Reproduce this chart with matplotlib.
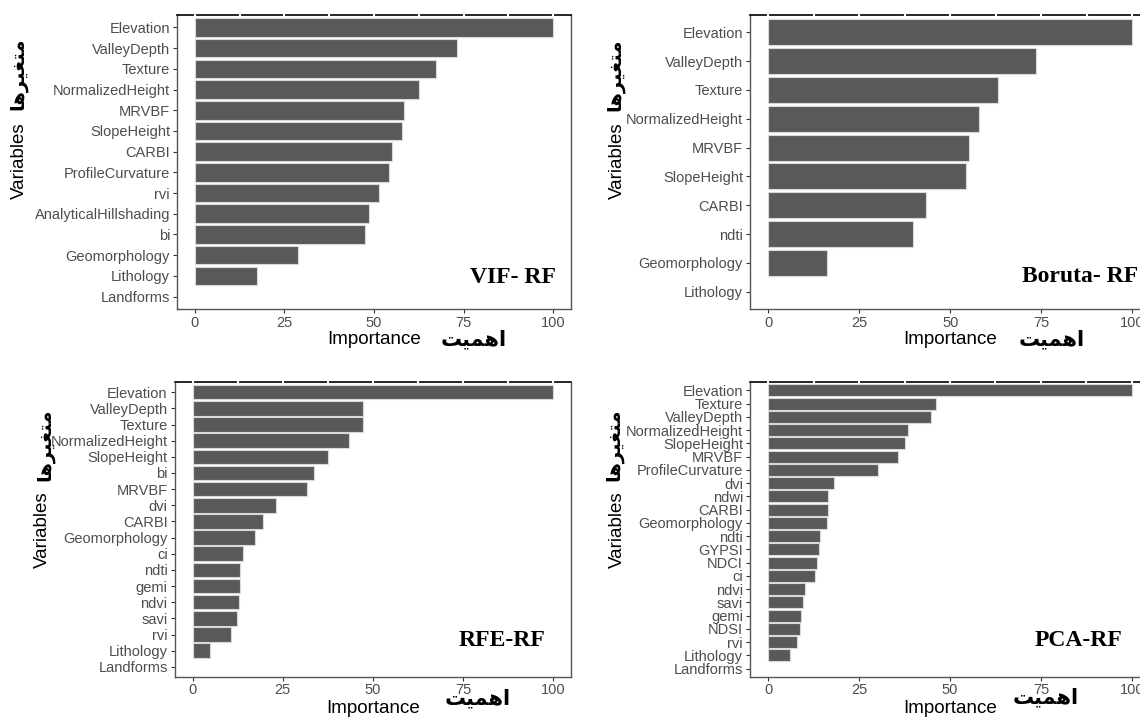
import numpy as np
import matplotlib
matplotlib.use("Agg")
import matplotlib.pyplot as plt

plt.rcParams['font.family'] = ['Liberation Sans', 'DejaVu Sans']

# ---- data ----
vif_vars = ["Elevation", "ValleyDepth", "Texture", "NormalizedHeight", "MRVBF",
            "SlopeHeight", "CARBI", "ProfileCurvature", "rvi", "AnalyticalHillshading",
            "bi", "Geomorphology", "Lithology", "Landforms"]
vif_imp = [100, 73.3, 67.2, 62.6, 58.5, 57.8, 54.9, 54.3, 51.5, 48.7, 47.4, 28.7, 17.3, 0]

boruta_vars = ["Elevation", "ValleyDepth", "Texture", "NormalizedHeight", "MRVBF",
               "SlopeHeight", "CARBI", "ndti", "Geomorphology", "Lithology"]
boruta_imp = [100, 73.6, 63.2, 58.0, 55.0, 54.3, 43.4, 39.7, 16.2, 0]

rfe_vars = ["Elevation", "ValleyDepth", "Texture", "NormalizedHeight", "SlopeHeight",
            "bi", "MRVBF", "dvi", "CARBI", "Geomorphology", "ci", "ndti", "gemi",
            "ndvi", "savi", "rvi", "Lithology", "Landforms"]
rfe_imp = [100, 47.2, 47.2, 43.3, 37.6, 33.7, 31.6, 23.0, 19.5, 17.2, 13.9, 13.1,
           13.1, 12.8, 12.3, 10.6, 4.9, 0]

pca_vars = ["Elevation", "Texture", "ValleyDepth", "NormalizedHeight", "SlopeHeight",
            "MRVBF", "ProfileCurvature", "dvi", "ndwi", "CARBI", "Geomorphology",
            "ndti", "GYPSI", "NDCI", "ci", "ndvi", "savi", "gemi", "NDSI", "rvi",
            "Lithology", "Landforms"]
pca_imp = [100, 46.2, 44.7, 38.4, 37.7, 35.7, 30.1, 18.0, 16.4, 16.4, 16.2, 14.2,
           13.9, 13.5, 12.8, 10.0, 9.5, 9.0, 8.8, 7.9, 5.9, 0]

titles = ["VIF- RF", "Boruta- RF", "RFE-RF", "PCA-RF"]

# Persian labels, pre-shaped (presentation forms, visual order)
fa_importance = "\uFE96\uFEF4\uFEE4\uFEEB\uFE8D"          # اهمیت
fa_variables = "\uFE8E\uFEEB\uFEAE\uFEF4\uFED0\uFE98\uFEE3"  # متغیرها

W, H = 1140, 717
fig = plt.figure(figsize=(W / 100, H / 100), dpi=100)


def px_axes(l, r, t, b):
    return fig.add_axes([l / W, 1 - b / H, (r - l) / W, (b - t) / H])


panels = [
    # vars, imp, axes box px, title pos, title ha, label coords
    dict(v=vif_vars, s=vif_imp, box=(177, 571, 15, 309), tpos=(0.962, 0.088), tha='right',
         ylab=(-0.401, 0.503), yfa=(-0.405, 0.80), xlab=(0.5, -0.075), xfa=(0.754, -0.105)),
    dict(v=boruta_vars, s=boruta_imp, box=(750, 1150.6, 15, 309), tpos=(0.679, 0.092), tha='left',
         ylab=(-0.332, 0.503), yfa=(-0.337, 0.796), xlab=(0.5, -0.075), xfa=(0.754, -0.105)),
    dict(v=rfe_vars, s=rfe_imp, box=(174.6, 571.3, 382.5, 676.5), tpos=(0.936, 0.104), tha='right',
         ylab=(-0.333, 0.50), yfa=(-0.327, 0.787), xlab=(0.5, -0.08), xfa=(0.765, -0.076)),
    dict(v=pca_vars, s=pca_imp, box=(750, 1150, 382.5, 676.5), tpos=(0.93, 0.104), tha='right',
         ylab=(-0.332, 0.50), yfa=(-0.34, 0.787), xlab=(0.5, -0.08), xfa=(0.738, -0.07)),
]

for p, title in zip(panels, titles):
    ax = px_axes(*p["box"])
    n = len(p["v"])
    pos = np.arange(n)
    lws = [0.8 if v > 0 else 0 for v in p["s"]]
    ax.barh(pos, p["s"], height=0.9, color="#595959", edgecolor="#d9d9d9", linewidth=lws)
    ax.set_yticks(pos)
    ax.set_yticklabels(p["v"])
    ax.set_ylim(n - 1 + 0.6, -0.6)
    ax.set_xlim(-5, 105)
    ax.set_xticks([0, 25, 50, 75, 100])
    ax.tick_params(axis='both', labelsize=10.5, labelcolor="#4D4D4D", color="#333333",
                   length=3, width=0.8, pad=2)
    for sp in ("left", "right", "bottom"):
        ax.spines[sp].set_color("#555555")
        ax.spines[sp].set_linewidth(1.0)
    ax.spines["top"].set_color("black")
    ax.spines["top"].set_linewidth(1.2)
    # white grid notches on the top border
    ax.vlines(np.arange(0, 101, 12.5), 0.995, 1.01, transform=ax.get_xaxis_transform(),
              colors="white", linewidth=1.5, clip_on=False, zorder=5)

    ax.set_xlabel("Importance", fontsize=13.5, color="black")
    ax.xaxis.set_label_coords(*p["xlab"])
    ax.set_ylabel("Variables", fontsize=13.5, color="black")
    ax.yaxis.label.set_va("center")
    ax.yaxis.set_label_coords(*p["ylab"])

    ax.text(*p["xfa"], fa_importance, transform=ax.transAxes, ha="center", va="center",
            fontsize=15, fontweight="bold", family=["DejaVu Sans"], color="black")
    ax.text(*p["yfa"], fa_variables, transform=ax.transAxes, ha="center", va="center",
            rotation=90, fontsize=14, fontweight="bold", family=["DejaVu Sans"], color="black")

    ax.text(*p["tpos"], title, transform=ax.transAxes, ha=p["tha"], va="baseline",
            fontsize=17, fontweight="bold", family=["Liberation Serif"], color="black")

fig.savefig("out.png", dpi=100)
